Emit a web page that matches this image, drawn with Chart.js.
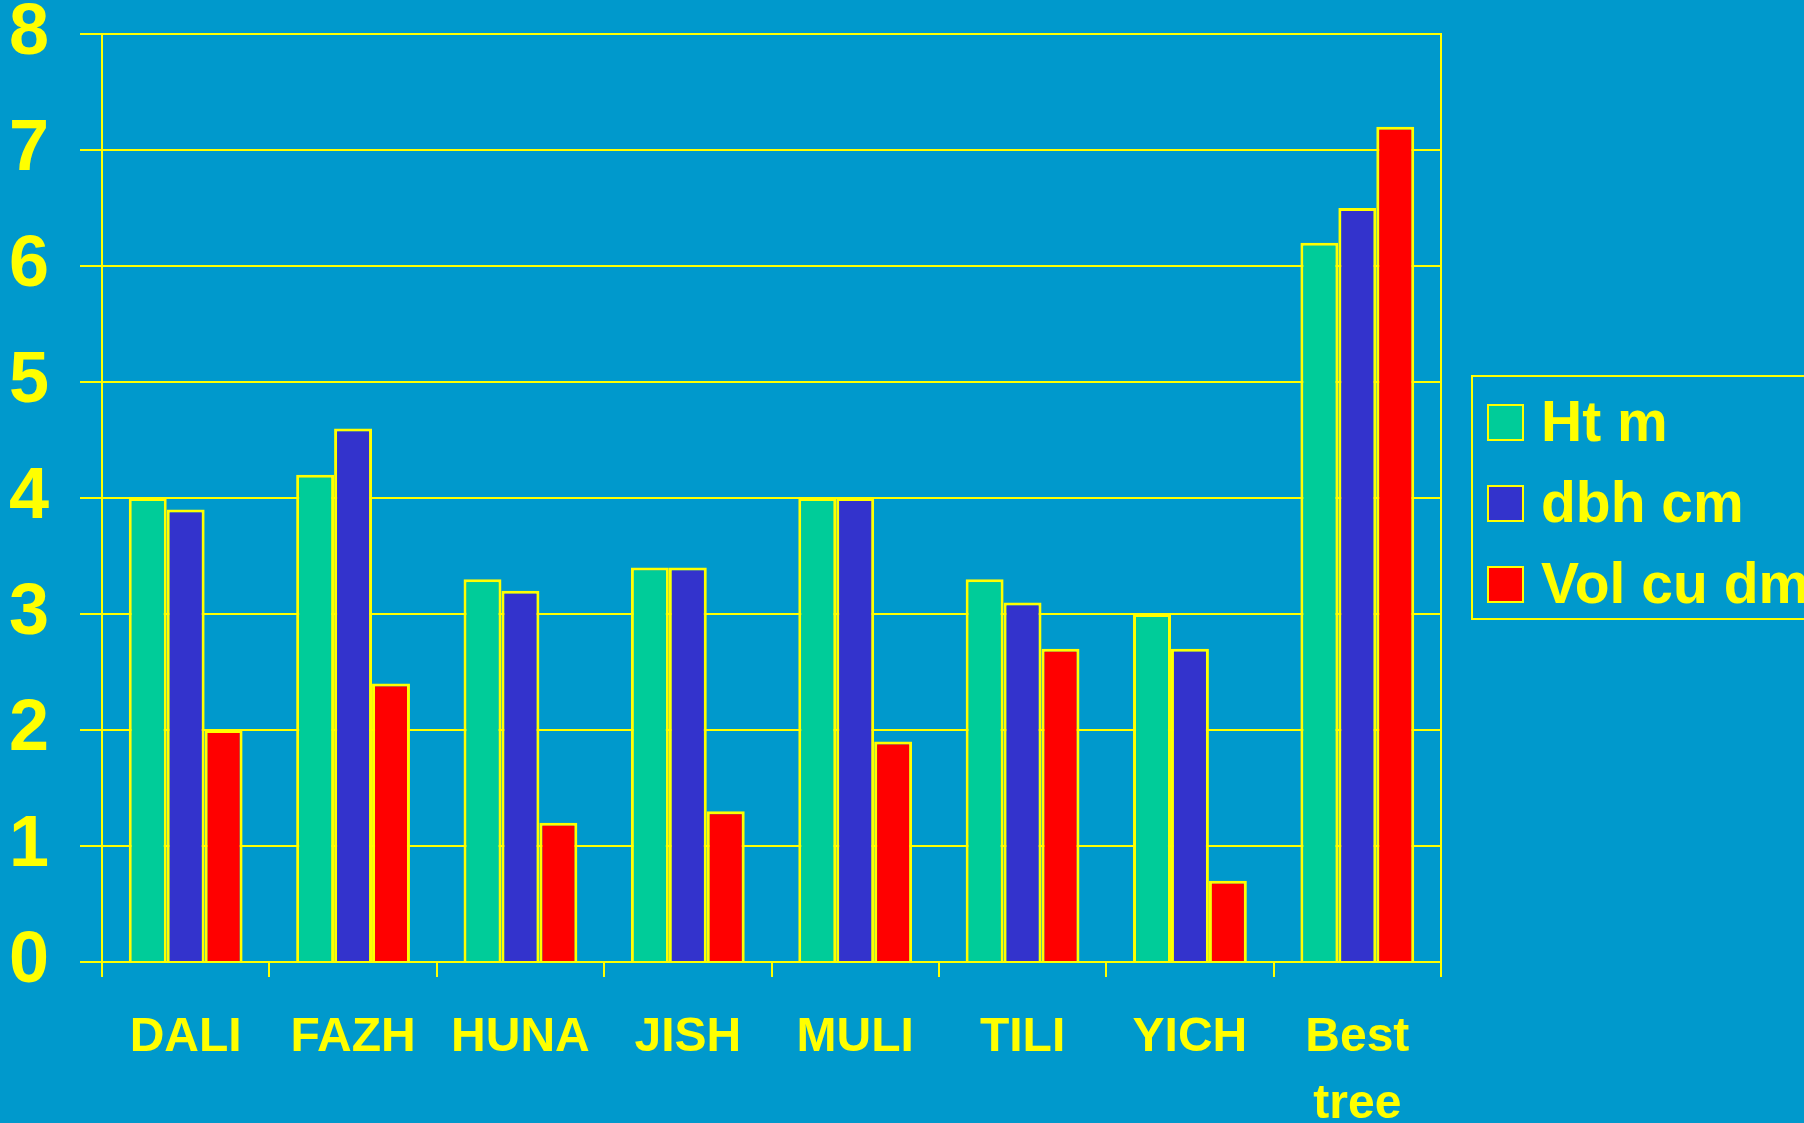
<!DOCTYPE html>
<html lang="en">
<head>
    <meta charset="UTF-8">
    <title>Provenance means</title>
    <style>
        body {
            margin: 0;
            background-color: #0099CC;
            overflow: hidden;
        }
        #wrap {
            width: 1804px;
            height: 1123px;
            position: relative;
        }
    </style>
</head>
<body>
    <div id="wrap"><canvas id="barChart"></canvas></div>

    <script src="https://cdn.jsdelivr.net/npm/chart.js"></script>
    <script>
        // data
        const categories = ['DALI', 'FAZH', 'HUNA', 'JISH', 'MULI', 'TILI', 'YICH', ['Best', 'tree']];
        const seriesNames = ['Ht m', 'dbh cm', 'Vol cu dm'];
        const htM = [4.0, 4.2, 3.3, 3.4, 4.0, 3.3, 3.0, 6.2];
        const dbhCm = [3.9, 4.6, 3.2, 3.4, 4.0, 3.1, 2.7, 6.5];
        const volCuDm = [2.0, 2.4, 1.2, 1.3, 1.9, 2.7, 0.7, 7.2];
        const yMin = 0, yMax = 8, yStep = 1;

        const YELLOW = '#FFFF00';
        const FONT = "'Liberation Sans', Arial, sans-serif";
        const colors = ['#00CC99', '#3333CC', '#FF0000'];

        // legend box drawn by hand, it runs off the right edge in the original
        const boxLegend = {
            id: 'boxLegend',
            afterDraw(chart) {
                const ctx = chart.ctx;
                ctx.save();
                ctx.strokeStyle = YELLOW;
                ctx.lineWidth = 2;
                ctx.strokeRect(1472, 376, 400, 243);
                ctx.font = 'bold 57px ' + FONT;
                ctx.textBaseline = 'middle';
                chart.data.datasets.forEach((ds, i) => {
                    const cy = 422 + i * 81;
                    ctx.fillStyle = ds.backgroundColor;
                    ctx.fillRect(1488, cy - 17, 35, 35);
                    ctx.strokeRect(1488, cy - 17, 35, 35);
                    ctx.fillStyle = YELLOW;
                    ctx.fillText(ds.label, 1541, cy + 3);
                });
                ctx.restore();
            }
        };

        const ctx = document.getElementById('barChart').getContext('2d');
        new Chart(ctx, {
            type: 'bar',
            data: {
                labels: categories,
                datasets: [htM, dbhCm, volCuDm].map((vals, i) => ({
                    label: seriesNames[i],
                    data: vals,
                    backgroundColor: colors[i],
                    borderColor: YELLOW,
                    borderWidth: 3,
                    categoryPercentage: 0.68,
                    barPercentage: 1.0
                }))
            },
            options: {
                responsive: true,
                maintainAspectRatio: false,
                animation: false,
                layout: { padding: { top: 0, left: 0, right: 363, bottom: 0 } },
                plugins: {
                    legend: { display: false },
                    tooltip: { enabled: false }
                },
                scales: {
                    x: {
                        grid: {
                            offset: true,
                            drawOnChartArea: false,
                            color: YELLOW,
                            lineWidth: 2,
                            tickLength: 15
                        },
                        border: { color: YELLOW, width: 2 },
                        ticks: {
                            color: YELLOW,
                            padding: 27,
                            maxRotation: 0,
                            autoSkip: false,
                            font: { family: FONT, size: 48, weight: 'bold', lineHeight: 1.4 }
                        },
                        afterFit(scale) { scale.height = 161; }
                    },
                    y: {
                        min: yMin,
                        max: yMax,
                        grid: { color: YELLOW, lineWidth: 2, tickLength: 22 },
                        border: { color: YELLOW, width: 2 },
                        ticks: {
                            stepSize: yStep,
                            color: YELLOW,
                            padding: 31,
                            font: { family: FONT, size: 72, weight: 'bold', lineHeight: 1.0 }
                        },
                        afterFit(scale) {
                            scale.width = 102;
                            scale.paddingTop = 34;
                            scale.paddingBottom = 0;
                        }
                    },
                    yRight: {
                        position: 'right',
                        grid: { drawOnChartArea: false, drawTicks: false },
                        border: { color: YELLOW, width: 2 },
                        ticks: { display: false },
                        afterFit(scale) { scale.width = 0; }
                    }
                }
            },
            plugins: [boxLegend]
        });
    </script>
</body>
</html>
